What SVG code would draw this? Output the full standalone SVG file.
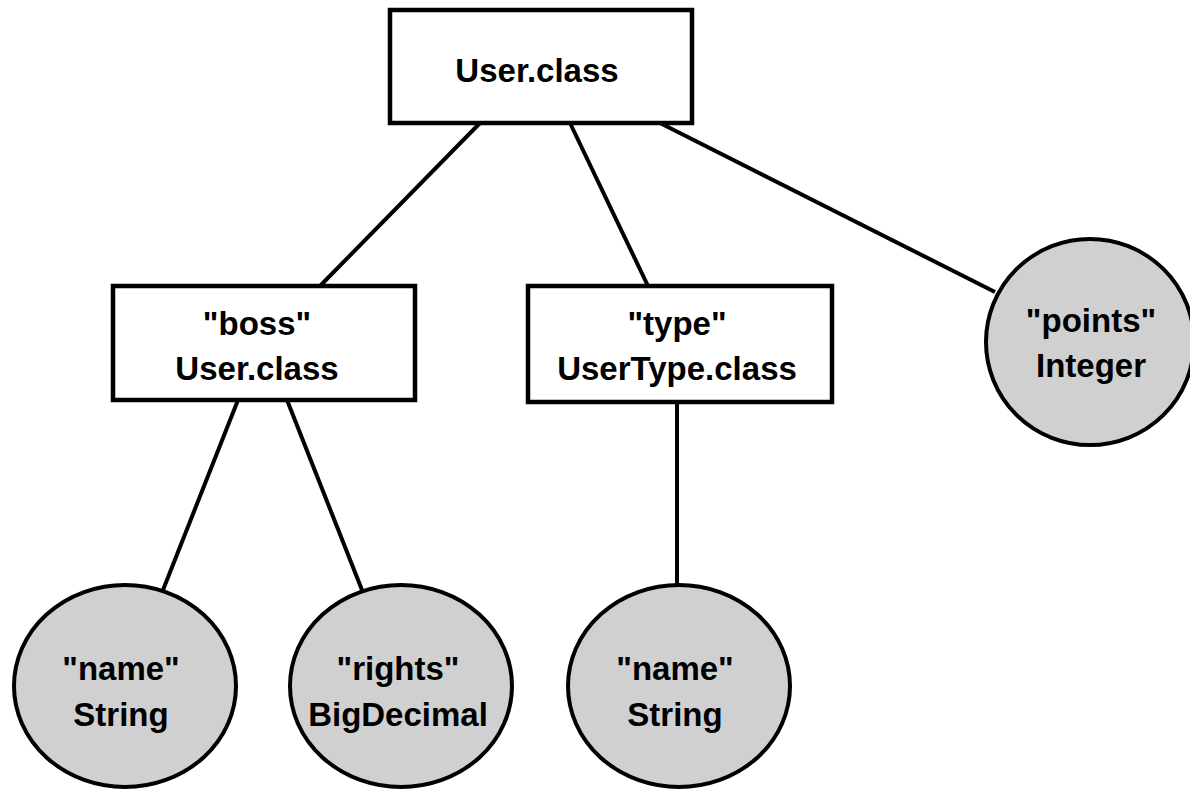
<svg xmlns="http://www.w3.org/2000/svg" width="1190" height="791" viewBox="0 0 1190 791">
  <style>
    .box { fill: #ffffff; stroke: #000000; stroke-width: 4.5; }
    .leaf { fill: #d0d0d0; stroke: #000000; stroke-width: 4; }
    .edge { stroke: #000000; stroke-width: 4; fill: none; }
    text { font-family: "Liberation Sans", Arial, sans-serif; font-weight: bold; font-size: 33px; fill: #000000; text-anchor: middle; }
  </style>
  <rect width="1190" height="791" fill="#ffffff"/>

  <!-- connectors -->
  <g id="connectors">
    <line class="edge" x1="480" y1="123" x2="320" y2="286"/>
    <line class="edge" x1="570" y1="123" x2="648" y2="286"/>
    <line class="edge" x1="660" y1="123" x2="995" y2="292"/>
    <line class="edge" x1="238" y1="400" x2="163" y2="590"/>
    <line class="edge" x1="287" y1="400" x2="362" y2="590"/>
    <line class="edge" x1="677" y1="402" x2="677" y2="586"/>
  </g>

  <!-- root class -->
  <g id="user-class">
    <rect class="box" x="390" y="10" width="302" height="113"/>
    <text x="537" y="82">User.class</text>
  </g>

  <!-- boss reference -->
  <g id="boss">
    <rect class="box" x="113" y="286" width="302" height="114"/>
    <text x="257" y="335">"boss"</text>
    <text x="257" y="380">User.class</text>
  </g>

  <!-- type reference -->
  <g id="type">
    <rect class="box" x="528" y="286" width="304" height="116"/>
    <text x="677" y="335">"type"</text>
    <text x="677" y="380">UserType.class</text>
  </g>

  <!-- points field -->
  <g id="points">
    <ellipse class="leaf" cx="1090" cy="342" rx="104" ry="103"/>
    <text x="1091" y="332">"points"</text>
    <text x="1091" y="377">Integer</text>
  </g>

  <!-- boss.name field -->
  <g id="boss-name">
    <ellipse class="leaf" cx="125" cy="686" rx="111" ry="101"/>
    <text x="121" y="680">"name"</text>
    <text x="121" y="726">String</text>
  </g>

  <!-- boss.rights field -->
  <g id="boss-rights">
    <ellipse class="leaf" cx="401" cy="686" rx="111" ry="101"/>
    <text x="398" y="680">"rights"</text>
    <text x="398" y="726">BigDecimal</text>
  </g>

  <!-- type.name field -->
  <g id="type-name">
    <ellipse class="leaf" cx="679" cy="686" rx="111" ry="101"/>
    <text x="675" y="680">"name"</text>
    <text x="675" y="726">String</text>
  </g>
</svg>
